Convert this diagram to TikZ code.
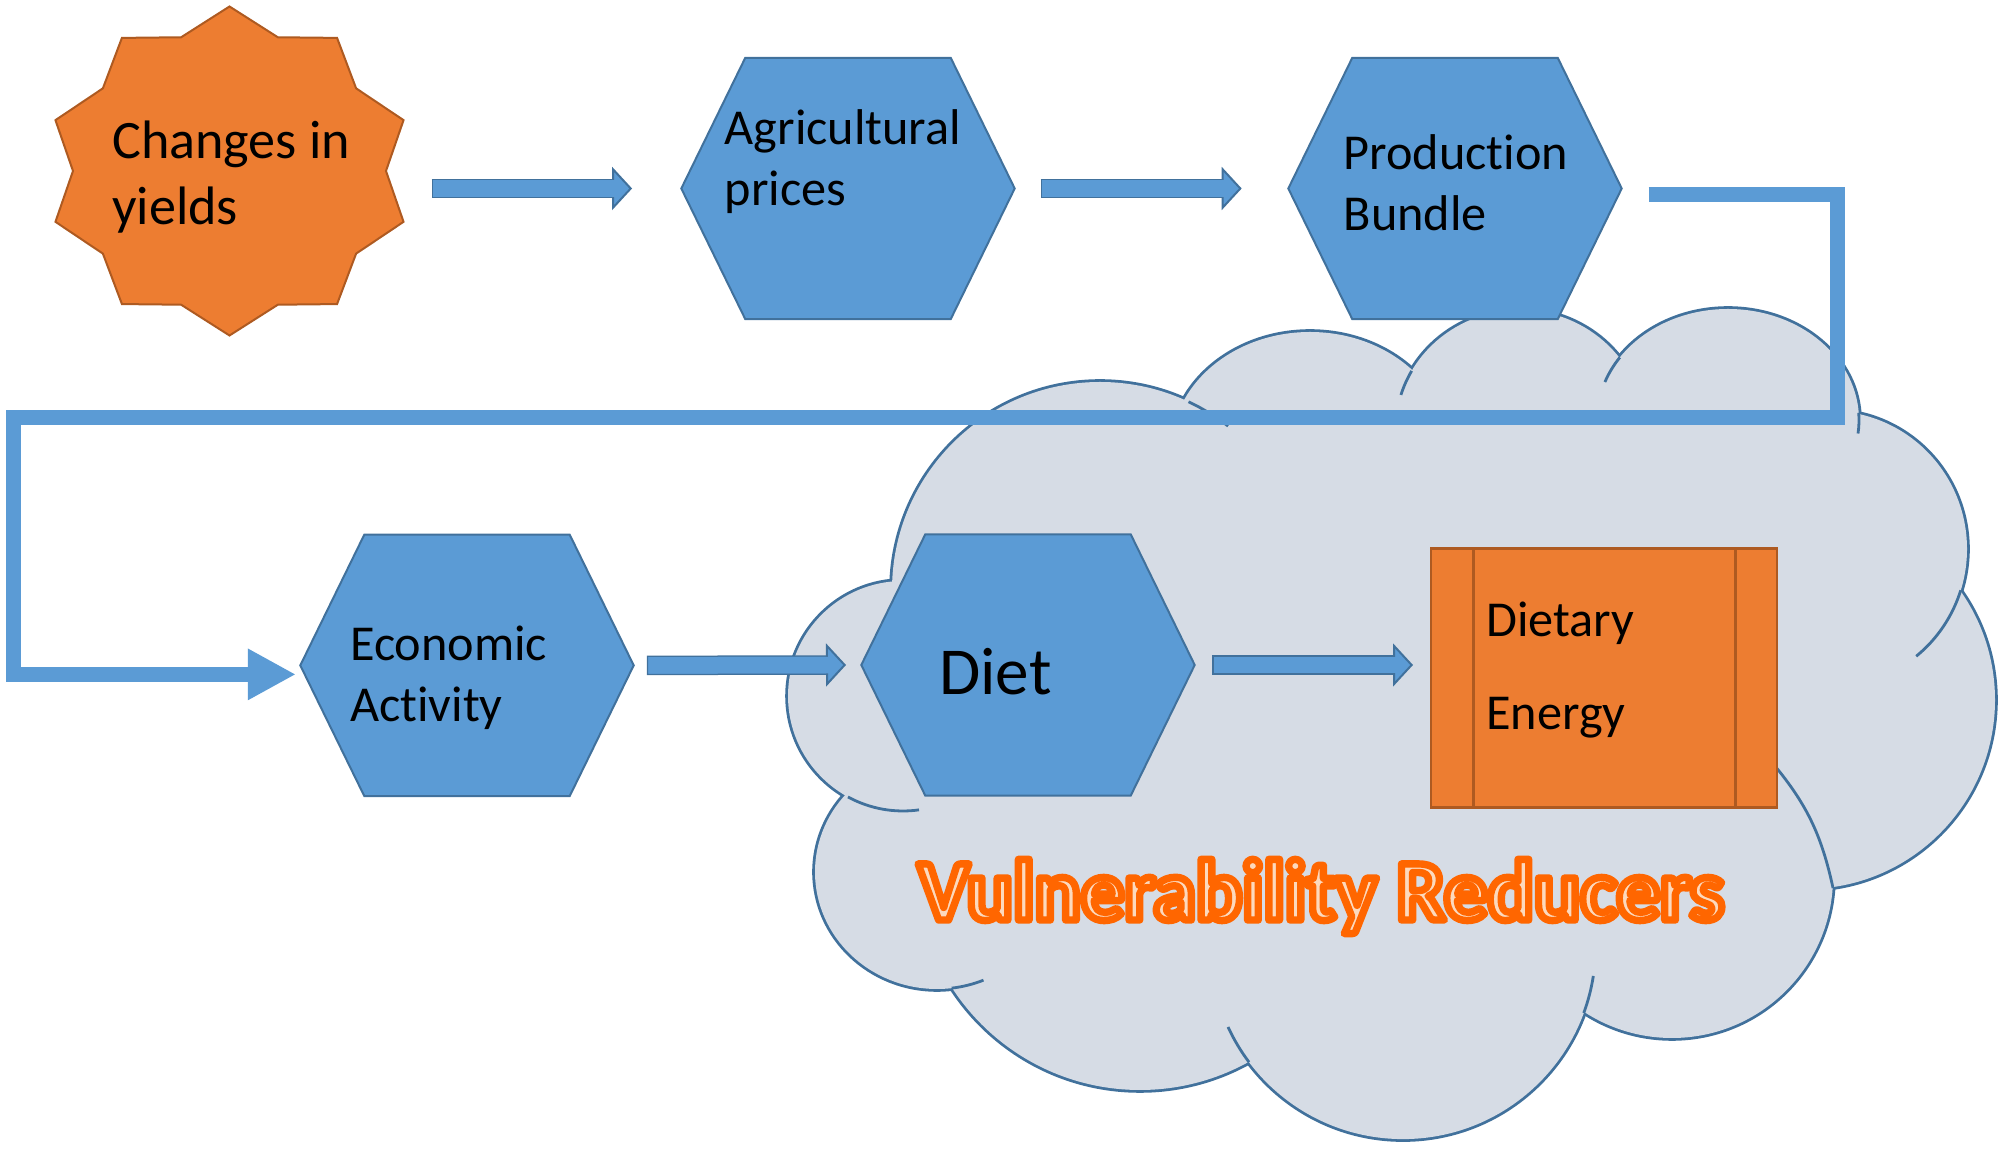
\documentclass[tikz,border=0pt]{standalone}
\usepackage{fontspec}
\setmainfont{Carlito}[Ligatures={NoCommon}]
\usetikzlibrary{arrows.meta}

\definecolor{officeblue}{HTML}{5B9BD5}
\definecolor{officeblueline}{HTML}{41719C}
\definecolor{officeorange}{HTML}{ED7D31}
\definecolor{officeorangeline}{HTML}{AE5A21}
\definecolor{cloudgray}{HTML}{D6DCE5}
\definecolor{wordartpeach}{HTML}{FCD9BD}

% stroked + filled glyphs (WordArt look)
\newcommand\wordartfx[1]{\special{pdf:code 2 Tr 2.1 w 1 j 1 0.4 0 RG}#1\special{pdf:code 0 Tr}}

% cloud bumps: centre x / centre y / x radius / y radius
\def\cloudbumps{11.00/5.59/2.08/2.08, 13.10/6.99/1.39/1.18, 15.20/7.19/1.245/1.20,
  17.28/7.29/1.31/1.11, 18.30/6.00/1.37/1.38, 18.06/4.49/1.89/1.89, 16.72/2.72/1.61/1.61,
  14.03/2.025/1.926/1.926, 11.40/2.83/2.24/2.24, 9.37/2.77/1.22/1.17, 9.03/4.53/1.15/1.15}

\begin{document}
\begin{tikzpicture}[
    hexbox/.style={minimum width=3.32cm, minimum height=2.60cm, inner sep=0pt},
    hexfill/.style={fill=officeblue, draw=officeblueline, line width=0.02cm},
    starbox/.style={minimum width=3.47cm, minimum height=3.29cm, inner sep=0pt},
    starfill/.style={fill=officeorange, draw=officeorangeline, line width=0.02cm},
    procbox/.style={fill=officeorange, draw=officeorangeline, line width=0.028cm,
        minimum width=3.46cm, minimum height=2.59cm, inner sep=0pt},
    procline/.style={draw=officeorangeline, line width=0.03cm},
    lbl/.style={anchor=base west, align=left, inner sep=0pt, font=\fontsize{14.3pt}{17.4pt}\selectfont},
    cloudedge/.style={draw=officeblueline, line width=0.028cm},
    flowarrow/.style={draw=officeblue, line width=0.165cm,
        -{Triangle[length=0.2cm, width=0.43cm, fill=officeblue, color=officeblueline, line width=0.02cm]},
        preaction={draw=officeblueline, line width=0.195cm, arrows=-, shorten >=0.1cm, shorten <=-0.015cm},
        postaction={draw=officeblue, line width=0.165cm, arrows=-, shorten >=0.12cm}},
    loopline/.style={draw=officeblue, line width=0.15cm, -{Triangle[length=0.48cm, width=0.48cm]}}]

\useasboundingbox (0,0) rectangle (20,11.49);

% cloud: outline of the union of the bumps, then the small inner arcs
\foreach \cx/\cy/\rx/\ry in \cloudbumps
    \draw[officeblueline, line width=0.056cm] (\cx,\cy) ellipse[x radius=\rx, y radius=\ry];
\fill[cloudgray] (11.00,5.59) -- (13.10,6.99) -- (15.20,7.19) -- (17.28,7.29) -- (18.30,6.00)
    -- (18.06,4.49) -- (16.72,2.72) -- (14.03,2.025) -- (11.40,2.83) -- (9.37,2.77) -- (9.03,4.53) -- cycle;
\foreach \cx/\cy/\rx/\ry in \cloudbumps
    \fill[cloudgray] (\cx,\cy) ellipse[x radius=\rx, y radius=\ry];
\foreach \cx/\cy/\rx/\ry/\ta/\tb in {11.00/5.59/2.08/2.08/64.8/52, 15.20/7.19/1.245/1.20/150.5/163,
    17.28/7.29/1.31/1.11/145.7/160, 17.28/7.29/1.31/1.11/3.7/-7, 18.30/6.00/1.37/1.38/-17.4/-51,
    14.03/2.025/1.926/1.926/-20.2/-8.8, 14.03/2.025/1.926/1.926/216.9/204.7,
    9.37/2.77/1.22/1.17/-83.1/-67.6, 9.03/4.53/1.15/1.15/-118.6/-82}
    \draw[cloudedge] (\cx,\cy) ++(\ta:\rx cm and \ry cm) arc[start angle=\ta, end angle=\tb, x radius=\rx, y radius=\ry];
\draw[cloudedge] (18.33,2.61) to[bend right=14] (17.70,3.89);

% star
\node[starbox] (yields) at (2.295,9.78) {};
\draw[starfill, shift={(yields.center)}] (90:1.83cm and 1.645cm)
    \foreach \a in {90,54,...,-234} { -- (\a-18:1.565cm and 1.406cm) -- (\a-36:1.83cm and 1.645cm) } -- cycle;

% hexagons
\foreach \nm/\cx/\cy in {agri/8.48/9.605, prod/14.55/9.605, econ/4.67/4.836, diet/10.28/4.84}{
    \node[hexbox] (\nm) at (\cx,\cy) {};
    \draw[hexfill] (\nm.west) -- ([xshift=0.64cm]\nm.north west) -- ([xshift=-0.64cm]\nm.north east)
        -- (\nm.east) -- ([xshift=-0.64cm]\nm.south east) -- ([xshift=0.64cm]\nm.south west) -- cycle;
}

% dietary energy box
\node[procbox] (energy) at (16.04,4.708) {};
\draw[procline] ([xshift=0.44cm]energy.north west) -- ([xshift=0.44cm]energy.south west);
\draw[procline] ([xshift=-0.433cm]energy.north east) -- ([xshift=-0.433cm]energy.south east);

% labels (base = last line)
\node[lbl, font=\fontsize{15.4pt}{18.8pt}\selectfont] (yieldstxt) at (1.116,9.246) {Changes in\\yields};
\node[lbl] (agritxt) at (7.24,9.437) {Agricultural\\prices};
\node[lbl] (prodtxt) at (13.43,9.18) {Production\\Bundle};
\node[lbl] (econtxt) at (3.495,4.273) {Economic\\Activity};
\node[lbl, font=\fontsize{19.1pt}{23pt}\selectfont] (diettxt) at (9.386,4.54) {Diet};
\node[lbl, font=\fontsize{14.3pt}{26.5pt}\selectfont] (energytxt) at (14.857,4.19) {Dietary\\Energy};

% block arrows
\draw[flowarrow] ([xshift=0.294cm]yields.east |- agri.west) -- ([xshift=-0.492cm]agri.west);
\draw[flowarrow] ([xshift=0.275cm]agri.east) -- ([xshift=-0.466cm]prod.west);
\draw[flowarrow] ([xshift=0.147cm]econ.east) -- ([xshift=-0.153cm]diet.west);
\draw[flowarrow] ([xshift=0.192cm]diet.east) -- ([xshift=-0.166cm]energy.west |- diet.east);

% feedback line
\coordinate (loopR) at (18.37,7.31);
\coordinate (loopL) at (0.13,7.31);
\draw[loopline] ([xshift=0.27cm, yshift=-0.06cm]prod.east) -| (loopR) -- (loopL)
    |- ([xshift=-0.044cm, yshift=-0.09cm]econ.west);

\node[anchor=base, inner sep=0pt, text=wordartpeach, font=\fontsize{24.6pt}{29pt}\selectfont\bfseries]
    (reducers) at (13.21,2.29) {\wordartfx{Vulnerability Reducers}};
\end{tikzpicture}
\end{document}
